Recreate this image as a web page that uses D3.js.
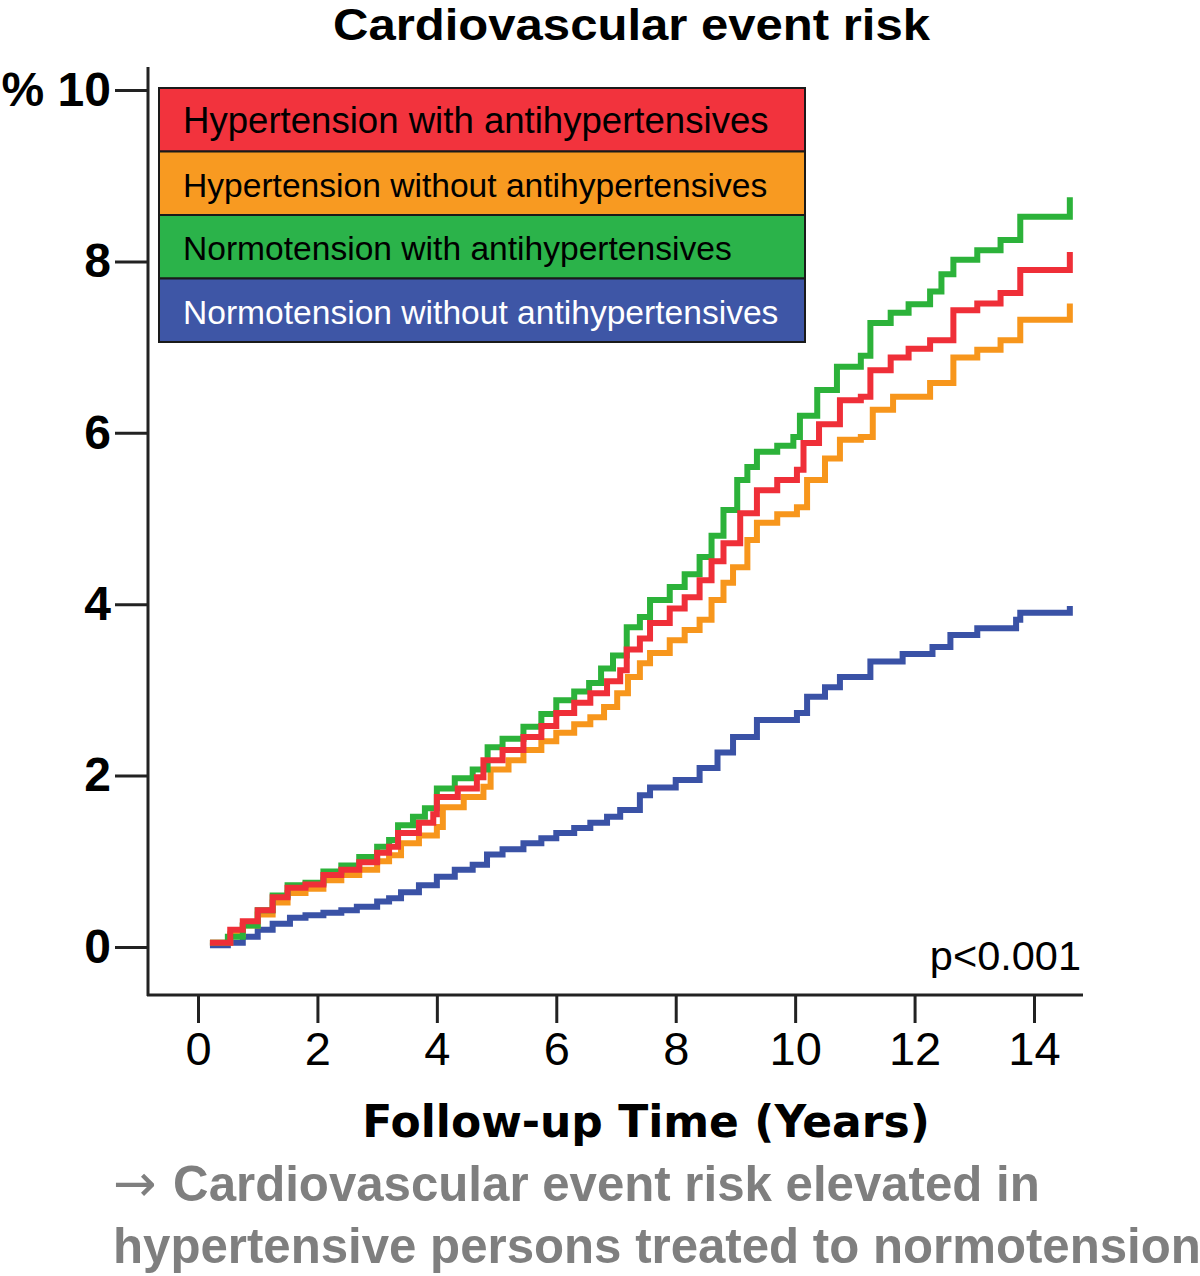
<!DOCTYPE html>
<html>
<head>
<meta charset="utf-8">
<script src="https://cdn.jsdelivr.net/npm/d3@7"></script>
<style>
  body { margin: 0; background: #fff; }
  svg { display: block; }
</style>
</head>
<body>
<svg id="chart" width="1200" height="1276"></svg>
<script>
// values: [years, percent]
var normoWith = [[0.2,0.05],[0.5,0.12],[0.75,0.25],[1.0,0.43],[1.25,0.6],[1.5,0.72],[1.8,0.75],[2.1,0.88],[2.4,0.95],[2.7,1.05],[3.0,1.17],[3.2,1.25],[3.35,1.42],[3.6,1.52],[3.8,1.62],[4.0,1.85],[4.3,1.97],[4.6,2.07],[4.85,2.33],[5.1,2.43],[5.45,2.57],[5.75,2.72],[6.0,2.88],[6.3,2.98],[6.55,3.08],[6.75,3.25],[6.95,3.4],[7.18,3.73],[7.4,3.85],[7.57,4.05],[7.9,4.2],[8.15,4.35],[8.4,4.55],[8.6,4.8],[8.8,5.1],[9.03,5.45],[9.2,5.6],[9.36,5.78],[9.7,5.85],[9.97,5.95],[10.08,6.2],[10.37,6.5],[10.7,6.77],[11.1,6.9],[11.26,7.28],[11.6,7.4],[11.9,7.5],[12.26,7.65],[12.45,7.85],[12.65,8.02],[13.05,8.13],[13.44,8.25],[13.77,8.52],[14.6,8.75]];
var hyperWith = [[0.2,0.05],[0.54,0.2],[0.75,0.3],[1.0,0.43],[1.25,0.58],[1.5,0.69],[1.8,0.73],[2.1,0.84],[2.4,0.9],[2.7,0.99],[3.0,1.1],[3.2,1.17],[3.35,1.33],[3.7,1.45],[3.94,1.55],[4.0,1.75],[4.35,1.85],[4.67,1.98],[4.78,2.18],[5.1,2.3],[5.45,2.45],[5.75,2.58],[6.0,2.73],[6.3,2.85],[6.57,2.96],[6.85,3.1],[7.07,3.23],[7.18,3.47],[7.4,3.6],[7.57,3.78],[7.9,3.95],[8.15,4.08],[8.4,4.28],[8.6,4.5],[8.8,4.71],[9.08,5.06],[9.36,5.33],[9.7,5.45],[10.03,5.57],[10.14,5.88],[10.4,6.1],[10.75,6.38],[11.1,6.42],[11.26,6.73],[11.6,6.88],[11.9,6.98],[12.26,7.08],[12.65,7.43],[13.05,7.51],[13.44,7.63],[13.77,7.9],[14.6,8.11]];
var hyperWithout = [[0.2,0.05],[0.54,0.15],[0.75,0.25],[1.0,0.38],[1.25,0.52],[1.5,0.63],[1.8,0.68],[2.1,0.78],[2.4,0.84],[2.7,0.9],[3.0,1.0],[3.2,1.07],[3.4,1.21],[3.7,1.3],[4.0,1.4],[4.1,1.63],[4.45,1.75],[4.78,1.87],[4.9,2.07],[5.2,2.18],[5.45,2.3],[5.75,2.4],[6.0,2.5],[6.3,2.6],[6.57,2.68],[6.8,2.8],[7.02,2.96],[7.2,3.15],[7.4,3.31],[7.57,3.43],[7.9,3.58],[8.15,3.7],[8.4,3.82],[8.6,4.05],[8.8,4.25],[8.96,4.43],[9.2,4.75],[9.36,4.95],[9.7,5.05],[10.03,5.13],[10.2,5.45],[10.5,5.7],[10.75,5.92],[11.1,5.95],[11.3,6.27],[11.64,6.42],[12.26,6.58],[12.65,6.88],[13.05,6.97],[13.44,7.08],[13.77,7.32],[14.6,7.51]];
var normoWithout = [[0.2,0.02],[0.5,0.05],[0.75,0.12],[1.0,0.2],[1.25,0.27],[1.54,0.34],[1.8,0.37],[2.1,0.4],[2.4,0.43],[2.66,0.47],[3.0,0.53],[3.2,0.57],[3.4,0.64],[3.7,0.72],[4.0,0.82],[4.3,0.9],[4.6,0.96],[4.84,1.08],[5.1,1.14],[5.45,1.21],[5.75,1.27],[6.0,1.33],[6.3,1.39],[6.57,1.45],[6.85,1.52],[7.07,1.6],[7.4,1.77],[7.57,1.86],[8.0,1.95],[8.4,2.09],[8.7,2.27],[8.96,2.45],[9.36,2.65],[10.03,2.73],[10.2,2.92],[10.5,3.03],[10.75,3.15],[11.26,3.33],[11.8,3.42],[12.3,3.5],[12.6,3.64],[13.05,3.72],[13.7,3.82],[13.77,3.9],[14.6,3.98]];

var legendLabels = ["Hypertension with antihypertensives", "Hypertension without antihypertensives",
                    "Normotension with antihypertensives", "Normotension without antihypertensives"];
var xTicks = [0, 2, 4, 6, 8, 10, 12, 14];
var yTicks = [0, 2, 4, 6, 8, 10];

var lineColors = ["#ef2f38", "#f7961c", "#2cb23a", "#3a52a6"];
var boxColors  = ["#f2333d", "#f89a21", "#2bb34a", "#3e56a6"];
var boxText    = ["#000", "#000", "#000", "#fff"];
var boxFont    = [36.6, 33.6, 33.6, 33.6];

var svg = d3.select("#chart");
var arial = "'Liberation Sans', Arial, sans-serif";

var x = d3.scaleLinear().domain([0, 14]).range([198, 1034]);
var y = d3.scaleLinear().domain([0, 10]).range([947, 90]);

// title
svg.append("text")
    .attr("x", 333).attr("y", 40)
    .attr("font-family", arial).attr("font-weight", "bold")
    .attr("font-size", 45)
    .attr("textLength", 597).attr("lengthAdjust", "spacingAndGlyphs")
    .text("Cardiovascular event risk");

// axis lines (they run past the tick range)
svg.append("line").attr("x1", 148).attr("x2", 148).attr("y1", 67).attr("y2", 996)
    .attr("stroke", "#222").attr("stroke-width", 3);
svg.append("line").attr("x1", 147).attr("x2", 1083).attr("y1", 995).attr("y2", 995)
    .attr("stroke", "#222").attr("stroke-width", 3);

var yAxis = d3.axisLeft(y).tickValues(yTicks).tickSize(33).tickPadding(4)
    .tickFormat(function(d) { return d == 10 ? "% 10" : d; });
var gy = svg.append("g").attr("transform", "translate(148,0)").call(yAxis);
gy.select(".domain").remove();
gy.selectAll(".tick line").attr("stroke", "#222").attr("stroke-width", 3);
gy.selectAll(".tick text")
    .attr("font-family", arial).attr("font-weight", "bold")
    .attr("font-size", 48).attr("fill", "#000");

var xAxis = d3.axisBottom(x).tickValues(xTicks).tickSize(28).tickPadding(9);
var gx = svg.append("g").attr("transform", "translate(0,995)").call(xAxis);
gx.select(".domain").remove();
gx.selectAll(".tick line").attr("stroke", "#222").attr("stroke-width", 3);
gx.selectAll(".tick text")
    .attr("font-family", arial).attr("font-size", 47).attr("fill", "#000");

svg.append("text")
    .attr("x", 646).attr("y", 1137)
    .attr("text-anchor", "middle")
    .attr("font-family", "'DejaVu Sans', Verdana, sans-serif").attr("font-weight", "bold")
    .attr("font-size", 44)
    .text("Follow-up Time (Years)");

// curves, blue first so the red one ends on top
var line = d3.line()
    .x(function(d) { return x(d[0]); })
    .y(function(d) { return y(d[1]); })
    .curve(d3.curveStepAfter);

var series = [
  {data: normoWithout, color: lineColors[3]},
  {data: hyperWithout, color: lineColors[1]},
  {data: normoWith,    color: lineColors[2]},
  {data: hyperWith,    color: lineColors[0]}
];
svg.selectAll("path.km").data(series).enter()
    .append("path")
    .attr("class", "km")
    .attr("fill", "none")
    .attr("stroke", function(d) { return d.color; })
    .attr("stroke-width", 6)
    .attr("stroke-linejoin", "miter")
    .attr("d", function(d) { return line(d.data); });

// legend
var legendX = 159, legendY = 88, rowH = 63.5, legendW = 646;
var lg = svg.append("g");
lg.selectAll("rect").data(legendLabels).enter()
    .append("rect")
    .attr("x", legendX).attr("y", function(d, i) { return legendY + i * rowH; })
    .attr("width", legendW).attr("height", rowH)
    .attr("fill", function(d, i) { return boxColors[i]; })
    .attr("stroke", "#1a1a1a").attr("stroke-width", 2);
lg.selectAll("text").data(legendLabels).enter()
    .append("text")
    .attr("x", legendX + 24)
    .attr("y", function(d, i) { return legendY + i * rowH + 45; })
    .attr("font-family", arial).attr("font-size", function(d, i) { return boxFont[i]; })
    .attr("fill", function(d, i) { return boxText[i]; })
    .text(function(d) { return d; });

svg.append("text")
    .attr("x", 1081).attr("y", 970)
    .attr("text-anchor", "end")
    .attr("font-family", arial).attr("font-size", 41.5)
    .text("p<0.001");

// take-home note under the chart
var note = ["Cardiovascular event risk elevated in", "hypertensive persons treated to normotension"];
var notes = svg.selectAll("text.note").data(note).enter()
    .append("text")
    .attr("class", "note")
    .attr("x", 113)
    .attr("y", function(d, i) { return 1201 + i * 62; })
    .attr("font-family", arial).attr("font-weight", "bold")
    .attr("font-size", 49.2).attr("fill", "#7f7f7f");
notes.filter(function(d, i) { return i == 0; }).append("tspan")
    .attr("font-family", "'DejaVu Sans', sans-serif").attr("font-weight", "normal")
    .attr("font-size", 52)
    .text("\u2192 ");
notes.append("tspan").text(function(d) { return d; });
</script>
</body>
</html>
